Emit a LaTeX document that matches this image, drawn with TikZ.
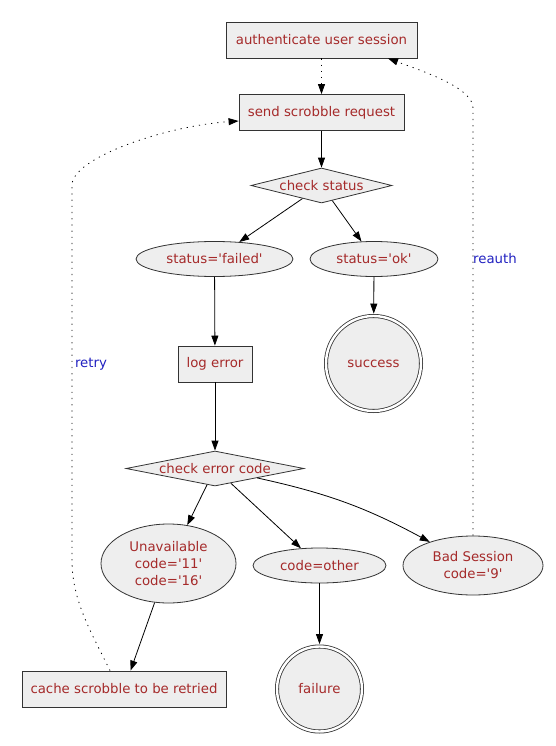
\documentclass[tikz,border=0pt]{standalone}
\usepackage{fontspec}
\setmainfont{DejaVu Sans}
\usetikzlibrary{shapes.geometric,arrows.meta}
\definecolor{txt}{HTML}{A52A2A}
\definecolor{nfill}{HTML}{EEEEEE}
\definecolor{lbl}{HTML}{2020C0}
\newcommand{\sq}{\textquotesingle}
\newcommand{\nfont}{\fontsize{13.3}{17}\selectfont}
\begin{document}
\begin{tikzpicture}[x=1pt,y=-1pt,
  base/.style={draw=black!80, fill=nfill, text=txt, font=\nfont, line width=0.8pt, inner sep=0pt},
  box/.style={base, rectangle},
  ell/.style={base, ellipse},
  dia/.style={base, diamond, label={[text=txt, font=\nfont]center:#1}},
  fin/.style={base, circle, double=white, double distance=2.4pt},
  edge/.style={draw=black, line width=0.8pt, -{Triangle[length=10pt,width=7pt]}},
  dot/.style={edge, dash pattern=on 1.2pt off 5pt},
  elab/.style={text=lbl, font=\nfont}]
\useasboundingbox (0,0) rectangle (555,746);

\node[box, minimum width=191, minimum height=36] (auth) at (321.5,40) {authenticate user session};
\node[box, minimum width=165, minimum height=36] (send) at (321.5,112.5) {send scrobble request};
\node[dia=check status, minimum width=141, minimum height=35] (cs) at (321.5,185.5) {};
\node[ell, minimum width=157, minimum height=35] (failed) at (214.5,259) {status=\sq failed\sq};
\node[ell, minimum width=128, minimum height=35] (ok) at (374,259) {status=\sq ok\sq};
\node[fin, minimum size=95] (succ) at (373.5,363.5) {success};
\node[box, minimum width=74, minimum height=36] (log) at (215,364) {log error};
\node[dia=check error code, minimum width=178, minimum height=35] (ced) at (215,468.5) {};
\node[ell, minimum width=135, minimum height=79, align=center] (unav) at (168.5,563.5) {Unavailable\\code=\sq 11\sq\\code=\sq 16\sq};
\node[ell, minimum width=133, minimum height=35] (other) at (319.5,565.5) {code=other};
\node[ell, minimum width=140, minimum height=59, align=center] (bad) at (473,565.5) {Bad Session\\code=\sq 9\sq};
\node[box, minimum width=204, minimum height=36] (cache) at (124,689) {cache scrobble to be retried};
\node[fin, minimum size=85] (fail) at (319.5,689) {failure};

\draw[dot] (auth) -- (send);
\draw[edge] (send) -- (cs);
\draw[edge] (cs) -- (failed);
\draw[edge] (cs) -- (ok);
\draw[edge] (failed) -- (log);
\draw[edge, shorten >=2pt] (ok) -- (succ);
\draw[edge] (log) -- (ced);
\draw[edge] (ced) -- (unav);
\draw[edge] (ced) -- (other);
\draw[edge] (ced) to[bend left=8] (bad);
\draw[edge] (unav) -- (cache);
\draw[edge, shorten >=2pt] (other) -- (fail);

\coordinate (r1) at (72,560);
\coordinate (r2) at (72,185);
\draw[dot] ([xshift=-14pt]cache.north) .. controls (90,630) and (72,600) .. (r1) -- (r2)
  .. controls (72,158) and (165,126) .. ([yshift=-8.5pt]send.west);
\node[elab] (retry) at (91,364) {retry};

\coordinate (a1) at (473,108);
\draw[dot] (bad.north) -- (a1) .. controls (473,88) and (425,72) .. ([xshift=66.5pt]auth.south);
\node[elab] (reauth) at (495,259) {reauth};
\end{tikzpicture}
\end{document}
